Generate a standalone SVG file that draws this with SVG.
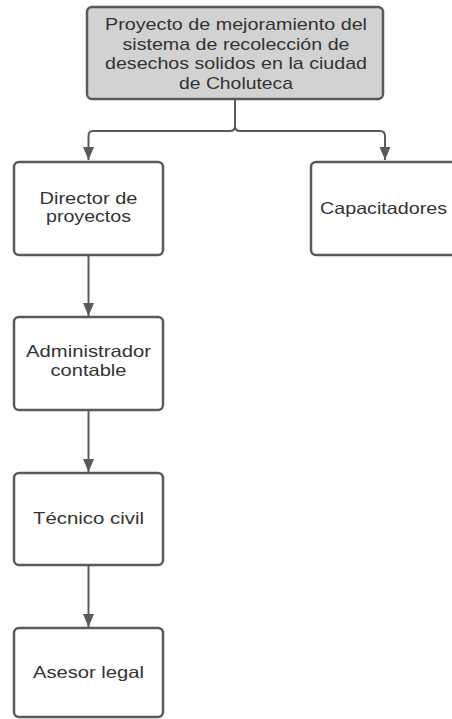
<svg xmlns="http://www.w3.org/2000/svg" width="452" height="719" viewBox="0 0 452 719">
  <style>
    .box { fill: #ffffff; stroke: #5a5a5a; stroke-width: 2.5; }
    .root { fill: #d2d2d2; stroke: #5a5a5a; stroke-width: 2.5; }
    .lbl { font-family: "Liberation Sans", Arial, sans-serif; font-size: 16.5px; fill: #333333; text-anchor: middle; }
    .big { font-size: 17px; }
    .wire { fill: none; stroke: #5a5a5a; stroke-width: 2; }
  </style>
  <defs>
    <!-- downward filled arrowhead, tip at the end of the line -->
    <marker id="down" markerUnits="userSpaceOnUse" markerWidth="12" markerHeight="14" viewBox="0 0 12 14" refX="6" refY="13" orient="0">
      <path d="M0.5 0 L11.5 0 L6 13 Z" fill="#5a5a5a"/>
    </marker>
  </defs>

  <!-- connectors -->
  <g id="connectors">
    <path class="wire" d="M235 99 V126 Q235 131 230 131 H93 Q88.5 131 88.5 136 V160" marker-end="url(#down)"/>
    <path class="wire" d="M235 126 Q235 131 240 131 H380 Q385 131 385 136 V160" marker-end="url(#down)"/>
    <path class="wire" d="M88.5 255 V316" marker-end="url(#down)"/>
    <path class="wire" d="M88.5 410 V472" marker-end="url(#down)"/>
    <path class="wire" d="M88.5 565 V627" marker-end="url(#down)"/>
  </g>

  <g id="proyecto">
    <rect class="root" x="87" y="7" width="296" height="92" rx="5"/>
    <text class="lbl big" x="236" y="30" textLength="262" lengthAdjust="spacingAndGlyphs">Proyecto de mejoramiento del</text>
    <text class="lbl big" x="236" y="49.5" textLength="227" lengthAdjust="spacingAndGlyphs">sistema de recolección de</text>
    <text class="lbl big" x="236" y="69" textLength="262" lengthAdjust="spacingAndGlyphs">desechos solidos en la ciudad</text>
    <text class="lbl big" x="236" y="89" textLength="114" lengthAdjust="spacingAndGlyphs">de Choluteca</text>
  </g>

  <g id="director">
    <rect class="box" x="14" y="162" width="149" height="93" rx="5"/>
    <text class="lbl" x="88.5" y="203.5" textLength="98" lengthAdjust="spacingAndGlyphs">Director de</text>
    <text class="lbl" x="88.5" y="222" textLength="85" lengthAdjust="spacingAndGlyphs">proyectos</text>
  </g>

  <g id="capacitadores">
    <rect class="box" x="311" y="162" width="149" height="93" rx="5"/>
    <text class="lbl" x="383.5" y="213.5" textLength="127" lengthAdjust="spacingAndGlyphs">Capacitadores</text>
  </g>

  <g id="administrador">
    <rect class="box" x="14" y="317" width="149" height="93" rx="5"/>
    <text class="lbl" x="88.5" y="357" textLength="125" lengthAdjust="spacingAndGlyphs">Administrador</text>
    <text class="lbl" x="88.5" y="376" textLength="76" lengthAdjust="spacingAndGlyphs">contable</text>
  </g>

  <g id="tecnico">
    <rect class="box" x="14" y="473" width="149" height="92" rx="5"/>
    <text class="lbl" x="88.5" y="523.5" textLength="111" lengthAdjust="spacingAndGlyphs">Técnico civil</text>
  </g>

  <g id="asesor">
    <rect class="box" x="14" y="628" width="149" height="89" rx="5"/>
    <text class="lbl" x="88.5" y="678" textLength="111" lengthAdjust="spacingAndGlyphs">Asesor legal</text>
  </g>
</svg>
